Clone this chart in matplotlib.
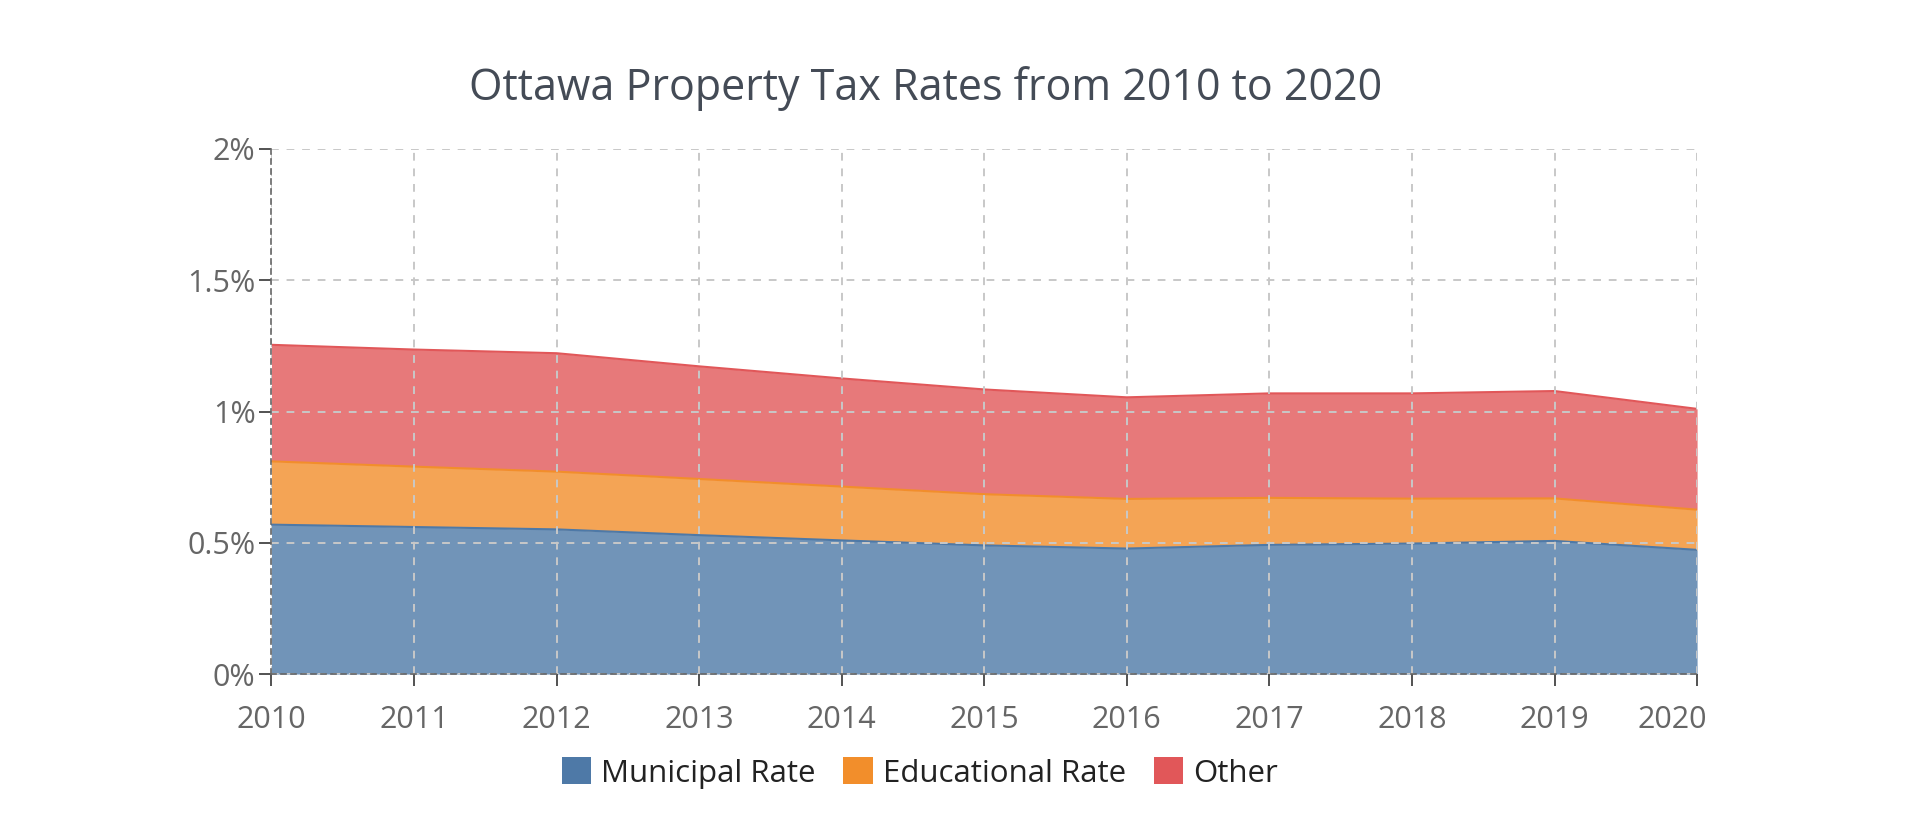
import matplotlib
matplotlib.use("Agg")
import matplotlib.pyplot as plt
from matplotlib.patches import Patch
import matplotlib.transforms as mtransforms

plt.rcParams['font.family'] = ['Open Sans', 'DejaVu Sans']

years = [2010, 2011, 2012, 2013, 2014, 2015, 2016, 2017, 2018, 2019, 2020]
municipal = [0.569, 0.560, 0.551, 0.529, 0.509, 0.490, 0.478, 0.492, 0.497, 0.507, 0.473]
educational = [0.241, 0.230, 0.220, 0.214, 0.205, 0.195, 0.189, 0.179, 0.171, 0.162, 0.153]
other = [0.444, 0.446, 0.451, 0.429, 0.412, 0.399, 0.387, 0.398, 0.401, 0.409, 0.384]

names = ['Municipal Rate', 'Educational Rate', 'Other']
colors = ['#4e79a7', '#f28e2b', '#e15759']
yticks = [0, 0.5, 1, 1.5, 2]
ylabels = ['0%', '0.5%', '1%', '1.5%', '2%']

fig = plt.figure(figsize=(19.2, 8.23), dpi=100)
ax = fig.add_axes([0.1414, 0.181, 0.8839 - 0.1414, 0.819 - 0.181])

# stacked areas
base = [0] * len(years)
for vals, c in zip([municipal, educational, other], colors):
    top = [b + v for b, v in zip(base, vals)]
    ax.fill_between(years, base, top, color=c, alpha=0.8, linewidth=0, zorder=1)
    ax.plot(years, top, color=c, lw=1.5, zorder=2)
    base = top

ax.set_xlim(2010, 2020)
ax.set_ylim(0, 2)
ax.set_xticks(years)
ax.set_xticklabels([str(y) for y in years])
ax.set_yticks(yticks)
ax.set_yticklabels(ylabels)

ax.grid(True, color='#c8c8c8', linestyle=(0, (4, 4)), linewidth=1.4, zorder=3)
ax.set_axisbelow(False)
for s in ['top', 'right']:
    ax.spines[s].set_visible(False)
for s in ['left', 'bottom']:
    ax.spines[s].set_color('#666666')
    ax.spines[s].set_linestyle((0, (3, 3)))
    ax.spines[s].set_linewidth(1.2)
    ax.spines[s].set_zorder(4)

ax.tick_params(axis='both', colors='#444444', labelcolor='#666666', length=8.5, width=1.3, labelsize=22)
ax.tick_params(axis='x', pad=13.5)
ax.tick_params(axis='y', pad=3)

# last x label is nudged left, as in the original
lbl = ax.get_xticklabels()[-1]
lbl.set_transform(lbl.get_transform() + mtransforms.ScaledTranslation(-25 / 100, 0, fig.dpi_scale_trans))

fig.text(0.482, 1 - 89 / 823, 'Ottawa Property Tax Rates from 2010 to 2020',
         ha='center', va='center', fontsize=31, color='#444b56')

handles = [Patch(facecolor=c, edgecolor='none') for c in colors]
fig.legend(handles, names, loc='center', bbox_to_anchor=(0.479, 1 - 773 / 823), ncol=3,
           frameon=False, fontsize=22.5, handlelength=0.95, handleheight=0.95,
           handletextpad=0.3, columnspacing=0.9, labelcolor='#222222')

fig.savefig('out.png', dpi=100, facecolor='white')
